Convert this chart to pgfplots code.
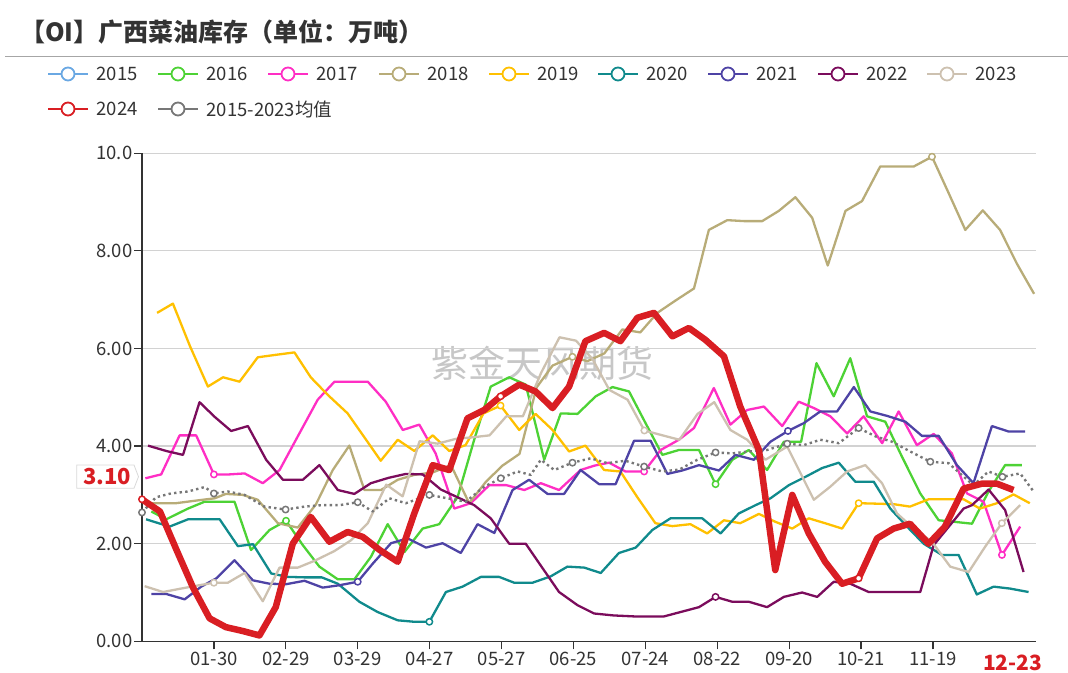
\documentclass[border=0pt]{standalone}
\usepackage{fontspec}
\setmainfont{Noto Sans CJK SC}
\usepackage{pgfplots}
\pgfplotsset{compat=1.18}
\definecolor{c2015}{HTML}{6AA8E3}
\definecolor{c2016}{HTML}{4DD235}
\definecolor{c2017}{HTML}{FF2EC4}
\definecolor{c2018}{HTML}{B8AC78}
\definecolor{c2019}{HTML}{FFC000}
\definecolor{c2020}{HTML}{108A8C}
\definecolor{c2021}{HTML}{4E43A5}
\definecolor{c2022}{HTML}{7B0C5C}
\definecolor{c2023}{HTML}{CDC1B0}
\definecolor{c2024}{HTML}{D91E23}
\definecolor{cavg}{HTML}{777777}
\definecolor{c333}{HTML}{333333}
\definecolor{cgrid}{HTML}{D2D2D2}
\begin{document}
\begin{tikzpicture}
\useasboundingbox (0pt,0pt) rectangle (1068pt,672pt);
% title
\node[anchor=west, inner sep=0, text=c333, font=\fontsize{25}{28}\selectfont\bfseries] at (20pt,640.5pt) {【OI】广西菜油库存（单位：万吨）};
\draw[color=black!35, line width=1pt] (5pt,615pt) -- (1068pt,615pt);
% legend
\foreach \x/\c/\t in {48/c2015/2015,158/c2016/2016,268/c2017/2017,379/c2018/2018,489/c2019/2019,598/c2020/2020,708/c2021/2021,818/c2022/2022,927/c2023/2023}{
  \draw[color=\c, line width=2pt] (\x pt,598pt) -- ++(40pt,0pt);
  \draw[color=\c, line width=1.8pt, fill=white] (\x pt+20pt,598pt) circle (6.5pt);
  \node[anchor=west, inner sep=0, text=c333, font=\fontsize{18.5}{20}\selectfont] at (\x pt+48.5pt,598pt) {\t};
}
\foreach \x/\c/\t in {48/c2024/2024,158/cavg/2015-2023均值}{
  \draw[color=\c, line width=2pt] (\x pt,563pt) -- ++(40pt,0pt);
  \draw[color=\c, line width=1.8pt, fill=white] (\x pt+20pt,563pt) circle (6.5pt);
  \node[anchor=west, inner sep=0, text=c333, font=\fontsize{18.5}{20}\selectfont] at (\x pt+48.5pt,563pt) {\t};
}
% watermark
\node[text=black!22, font=\fontsize{37}{40}\selectfont] at (542.5pt,309pt) {紫金天风期货};
\begin{axis}[
  at={(142pt,30.7pt)}, anchor=south west, scale only axis,
  width=894pt, height=488pt,
  xmin=0, xmax=373, ymin=0, ymax=10,
  axis lines=left, axis line style={-, color=c333, line width=1.2pt},
  xtick={30,60,90,120,150,180,210,240,270,300,330},
  xticklabels={01-30,02-29,03-29,04-27,05-27,06-25,07-24,08-22,09-20,10-21,11-19},
  ytick={0,2,4,6,8,10},
  yticklabels={0.00,2.00,4.00,6.00,8.00,10.0},
  tick align=outside, major tick length=8pt,
  tick style={color=c333, line width=1.2pt},
  ymajorgrids, grid style={color=cgrid, line width=1.2pt},
  ticklabel style={font=\fontsize{18.5}{20}\selectfont, text=c333},
  yticklabel style={inner xsep=1.5pt},
  xticklabel style={inner ysep=3pt},
  /pgf/number format/assume math mode=true,
  clip=false,
  every axis plot/.append style={line join=round, mark=none},
]
% 2016
\addplot[color=c2016, line width=2.3pt] coordinates {(3.9,2.66) (10.1,2.50) (19.2,2.72) (26.1,2.86) (32.4,2.86) (38.6,2.86) (45.5,1.87) (53.2,2.28) (60.1,2.47) (67.1,1.97) (74,1.53) (81.7,1.27) (88.6,1.27) (95.5,1.73) (102.5,2.40) (109.5,1.83) (117.1,2.31) (124,2.40) (131.7,2.96) (138.6,4.13) (145.5,5.22) (153.2,5.41) (160.1,5.26) (167.8,3.72) (174.7,4.67) (181.7,4.66) (189.3,5.02) (196.3,5.21) (203.2,5.12) (210.1,4.47) (217.1,3.82) (224,3.92) (232.4,3.92) (239.3,3.22) (246.3,3.72) (253.2,3.92) (260.8,3.51) (267.8,4.09) (275,4.09) (281.4,5.70) (288.6,5.02) (295.5,5.80) (302.5,4.61) (310.1,4.50) (317.1,3.78) (324.7,3.03) (332.4,2.48) (338.6,2.45) (346.3,2.41) (353.2,3.07) (360.1,3.61) (367.1,3.61)};
% 2017
\addplot[color=c2017, line width=2.3pt] coordinates {(1.4,3.34) (8,3.42) (15.7,4.22) (22.6,4.22) (30,3.42) (36.5,3.42) (42.8,3.44) (50.4,3.24) (57.4,3.51) (65,4.2) (73.3,4.95) (80.3,5.32) (87,5.32) (94.2,5.32) (101.7,4.91) (108.8,4.33) (115.7,4.44) (122.5,3.85) (130.3,2.72) (137.2,2.83) (144.9,3.2) (152,3.2) (159.5,3.10) (166.4,3.24) (174,3.10) (183,3.51) (188.8,3.6) (194.9,3.66) (201.7,3.48) (209.5,3.48) (216.4,3.92) (224,4.13) (230.3,4.37) (238.6,5.19) (245.5,4.44) (252.5,4.74) (259.5,4.81) (267.1,4.41) (274,4.91) (280.3,4.78) (287.2,4.61) (294.2,4.26) (301.1,4.61) (308.8,4.06) (315.7,4.71) (323.3,4.02) (330.3,4.25) (337.9,3.85) (344.2,3.03) (351.1,2.86) (358.8,1.77) (366.4,2.35)};
% 2018
\addplot[color=c2018, line width=2.3pt] coordinates {(3.75,2.83) (14.2,2.83) (22,2.88) (30.3,2.93) (35,3.02) (42.1,3.0) (48.3,2.9) (56.7,2.42) (65,2.33) (72.5,2.8) (79.6,3.51) (86.5,4.01) (92.8,3.10) (99.7,3.10) (106.7,3.31) (113.6,3.41) (121.3,3.46) (128.9,3.61) (136.5,2.83) (143.5,3.27) (150.4,3.6) (157.5,3.84) (164.6,5.2) (171.3,5.65) (179.6,5.83) (185.8,5.74) (192.9,5.9) (200.4,6.39) (207.9,6.33) (215,6.73) (222.5,6.98) (230.3,7.23) (236.5,8.43) (244.2,8.63) (251.3,8.61) (258.75,8.61) (265.7,8.82) (272.6,9.10) (279.6,8.68) (286.1,7.70) (293.5,8.82) (300.4,9.02) (308,9.73) (315,9.73) (322,9.73) (329.6,9.93) (336.5,9.19) (343.5,8.43) (350.8,8.83) (358,8.43) (365,7.74) (372.2,7.12)};
% 2019
\addplot[color=c2019, line width=2.3pt] coordinates {(6.3,6.73) (12.9,6.92) (20,6.05) (27.5,5.22) (33.8,5.41) (40.7,5.32) (48.3,5.82) (55.8,5.87) (63.6,5.92) (70.4,5.41) (77.5,5.05) (85.8,4.67) (92.5,4.2) (99.6,3.70) (106.7,4.13) (113.6,3.90) (121.3,4.22) (128.2,3.90) (135,4.02) (142.5,4.67) (149.6,4.83) (157.4,4.33) (164.2,4.66) (171.3,4.33) (178.2,3.89) (185,4.01) (192.8,3.51) (199.6,3.48) (206.7,2.95) (214.2,2.42) (221.3,2.36) (228.8,2.40) (235.8,2.21) (242.8,2.48) (249.6,2.42) (257.4,2.61) (264.2,2.45) (271.3,2.31) (278.2,2.52) (285,2.42) (292.1,2.31) (299,2.83) (306.7,2.82) (313.6,2.81) (320.4,2.76) (328.2,2.91) (335,2.91) (342.8,2.91) (349.6,2.72) (356.7,2.83) (363.6,3.01) (370.4,2.83)};
% 2020
\addplot[color=c2020, line width=2.3pt] coordinates {(1.7,2.5) (11.5,2.35) (19.2,2.50) (25.8,2.50) (32.4,2.50) (40,1.95) (46.3,1.99) (53.9,1.39) (60.8,1.32) (67.9,1.31) (75,1.31) (81.7,1.18) (90.7,0.81) (98.3,0.6) (106.7,0.43) (113.6,0.40) (119.9,0.40) (126.8,1.01) (133.75,1.12) (141.4,1.32) (149,1.32) (155.3,1.20) (162.9,1.20) (170.5,1.33) (177.5,1.53) (184.5,1.51) (191.4,1.40) (199,1.81) (206,1.92) (212.9,2.28) (220.5,2.52) (227,2.52) (233.75,2.52) (241.4,2.21) (249,2.62) (256,2.79) (262.2,2.93) (269.9,3.20) (276.8,3.37) (283.75,3.55) (290.7,3.66) (297.6,3.27) (305.3,3.27) (312.2,2.72) (319.2,2.35) (326.1,2.0) (333.75,1.77) (340.7,1.77) (348.3,0.96) (355.3,1.12) (362.2,1.08) (369.9,1.01)};
% 2021
\addplot[color=c2021, line width=2.3pt] coordinates {(3.9,0.97) (10.1,0.97) (17.8,0.86) (24.7,1.12) (31,1.29) (38.6,1.66) (46.25,1.25) (53.2,1.18) (60.1,1.17) (67.8,1.24) (75.4,1.10) (82.5,1.15) (90,1.22) (96.25,1.59) (103.9,2.01) (110.8,2.11) (118.5,1.92) (125.4,2.01) (133,1.81) (140,2.40) (147,2.22) (154.6,3.10) (161.5,3.31) (169.2,3.02) (176.1,3.02) (183,3.51) (190.7,3.22) (197.6,3.22) (205.3,4.11) (212.2,4.11) (219.2,3.43) (225.4,3.50) (232.4,3.61) (240.7,3.50) (247.6,3.82) (255.3,3.72) (262.2,4.09) (269.5,4.31) (276.1,4.47) (283,4.71) (290,4.71) (297,5.21) (303.9,4.71) (310.8,4.62) (318.5,4.50) (325.4,4.21) (332.4,4.21) (340,3.61) (346.9,3.24) (354.6,4.41) (361.5,4.30) (368.5,4.30)};
% 2022
\addplot[color=c2022, line width=2.3pt] coordinates {(2.5,4.01) (10.1,3.90) (17.1,3.82) (24,4.90) (30.3,4.6) (37.2,4.31) (44.2,4.41) (51.8,3.72) (58.8,3.31) (67.1,3.31) (74,3.61) (81.7,3.10) (88.6,3.02) (95.5,3.24) (102.9,3.35) (110.1,3.43) (117.1,3.42) (124.7,3.11) (131.7,2.95) (138.6,2.79) (145.5,2.52) (153.2,2.0) (160.1,2.0) (167.1,1.5) (174,1.01) (181.7,0.74) (188.6,0.57) (196.7,0.53) (205.3,0.51) (217.8,0.51) (232.4,0.70) (239.3,0.91) (246.3,0.81) (253.2,0.81) (260.8,0.70) (267.8,0.91) (275.4,1.0) (281.7,0.91) (288.6,1.22) (295.5,1.18) (303.2,1.01) (310,1.01) (317,1.01) (324.7,1.01) (330.3,1.97) (342.8,2.72) (346.3,2.79) (353.2,3.11) (360.1,2.69) (367.8,1.42)};
% 2023
\addplot[color=c2023, line width=2.3pt] coordinates {(1.1,1.13) (8.75,1.01) (16.25,1.08) (24,1.15) (30,1.20) (35.8,1.20) (42.8,1.40) (50.4,0.82) (57.4,1.51) (65,1.51) (72,1.65) (80.3,1.85) (87.2,2.07) (94.2,2.42) (101.9,3.21) (108.75,2.97) (115.8,4.10) (123.3,4.05) (131.1,4.15) (137.9,4.18) (145,4.22) (152,4.61) (158.9,4.61) (166.5,5.50) (174.2,6.23) (181.1,6.16) (188,5.78) (195,5.15) (202.6,4.95) (209.6,4.32) (217.2,4.22) (224.2,4.13) (231.8,4.66) (238.75,4.9) (245.5,4.33) (252.5,4.13) (260.1,3.72) (269.2,3.99) (280.3,2.90) (287.2,3.17) (294.2,3.48) (301.8,3.61) (308.75,3.24) (315,2.62) (322,2.31) (329.6,2.04) (337.2,1.53) (344.9,1.42) (351.8,1.94) (358.75,2.42) (366.4,2.79)};
% 2015-2023 average
\addplot[color=cavg, line width=2.4pt, dash pattern=on 2.4pt off 3.2pt] coordinates {(0,2.64) (5.8,2.95) (12.1,3.03) (19.2,3.07) (26.1,3.16) (30,3.03) (35.8,3.07) (42.8,3.0) (51.1,2.76) (59.9,2.70) (67.8,2.76) (75,2.79) (82.5,2.79) (90,2.85) (96.25,2.66) (103.2,2.93) (110.1,2.83) (119.9,3.0) (127.5,2.93) (135.1,2.86) (142.8,3.17) (149.7,3.34) (156.7,3.48) (162.2,3.41) (166.4,3.72) (172,3.51) (179.6,3.66) (187.2,3.75) (194.2,3.65) (201.7,3.70) (209.5,3.58) (217.1,3.48) (224.2,3.52) (231.7,3.72) (239.3,3.87) (246.25,3.85) (253.2,3.89) (260.8,3.92) (269.2,4.05) (276.1,4.02) (283,4.13) (290.7,4.06) (299,4.37) (306,4.2) (312.9,4.09) (320.5,3.89) (328.9,3.68) (336.5,3.65) (341.3,3.44) (346.9,3.20) (353.2,3.48) (359,3.37) (366.4,3.44) (372,3.07)};
% 2024
\addplot[color=c2024, line width=6.5pt] coordinates {(0,2.91) (7.5,2.66) (14.6,1.85) (21.3,1.1) (28.2,0.47) (35,0.29) (42.1,0.21) (49,0.12) (55.8,0.7) (62.9,2.0) (70.4,2.55) (78.2,2.04) (85.8,2.24) (92.1,2.14) (99.2,1.87) (106.7,1.63) (113.6,2.62) (121.3,3.61) (128.2,3.51) (135.8,4.57) (142.8,4.74) (149.6,5.02) (157.4,5.26) (164.2,5.12) (171.3,4.78) (178.2,5.22) (185,6.15) (192.8,6.32) (199.6,6.15) (206.7,6.63) (213.6,6.73) (221.3,6.25) (228.2,6.42) (235,6.18) (242.8,5.84) (249.6,4.81) (257.4,3.92) (264.2,1.46) (271.3,3.0) (278.2,2.21) (285,1.63) (292.1,1.18) (299,1.29) (306.7,2.11) (313.6,2.31) (320.4,2.41) (328.2,2.0) (335,2.35) (342.8,3.13) (350.4,3.23) (356.7,3.23) (363.6,3.10)};
% markers at label categories
\pgfplotsset{mk/.style={only marks, mark=*, mark size=3.2pt, mark options={fill=white, draw=#1, line width=1.5pt}}}
\addplot[mk=c2016] coordinates {(60.1,2.47) (239.3,3.22)};
\addplot[mk=c2017] coordinates {(30,3.42) (209.5,3.48) (358.8,1.77)};
\addplot[mk=c2018] coordinates {(179.6,5.83) (329.6,9.93)};
\addplot[mk=c2019] coordinates {(149.6,4.83) (299,2.83)};
\addplot[mk=c2020] coordinates {(119.9,0.40)};
\addplot[mk=c2021] coordinates {(90,1.22) (269.5,4.31)};
\addplot[mk=c2022] coordinates {(239.3,0.91)};
\addplot[mk=c2023] coordinates {(30,1.20) (209.6,4.32) (358.75,2.42)};
\addplot[mk=cavg] coordinates {(0,2.64) (30,3.03) (59.9,2.70) (90,2.85) (119.9,3.0) (149.7,3.34) (179.6,3.66) (209.5,3.58) (239.3,3.87) (269.2,4.05) (299,4.37) (328.9,3.68) (359,3.37)};
\addplot[mk=c2024] coordinates {(0,2.91) (149.6,5.02) (299,1.29)};
% axis pointer label on x
\node[text=c2024, font=\fontsize{21}{24}\selectfont\bfseries, inner sep=0] at (axis cs:363.3,0) [yshift=-21.2pt] {12-23};
\end{axis}
% axis pointer label on y
\draw[draw=black!15, fill=white, line width=0.8pt] (76.7pt,183.7pt) -- (134pt,183.7pt) -- (138.5pt,195.3pt) -- (134pt,207pt) -- (76.7pt,207pt) -- cycle;
\node[text=c2024, font=\fontsize{22}{24}\selectfont\bfseries, inner sep=0] at (107pt,195.3pt) {3.10};
\end{tikzpicture}
\end{document}
